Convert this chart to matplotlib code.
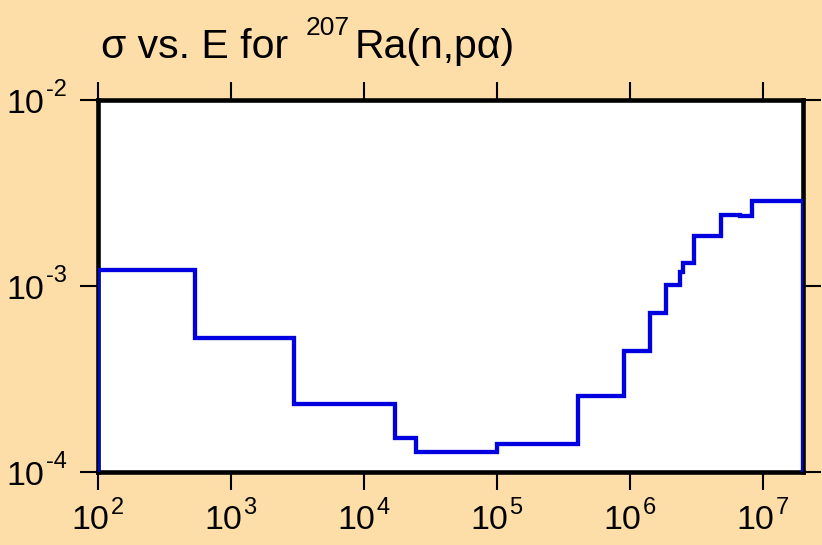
import matplotlib
matplotlib.use("Agg")
import matplotlib.pyplot as plt
from matplotlib.ticker import FixedLocator, NullLocator, NullFormatter

plt.rcParams["font.family"] = ["Liberation Sans", "DejaVu Sans"]

# group boundaries (eV) and cross section per group
energy_edges = [1e2, 535, 2980, 1.71e4, 2.46e4, 1e5, 4.06e5, 9.0e5, 1.41e6,
                1.87e6, 2.38e6, 2.50e6, 3.03e6, 4.83e6, 6.7e6, 8.26e6, 2e7]
sigma = [1.22e-3, 5.25e-4, 2.32e-4, 1.52e-4, 1.28e-4, 1.42e-4, 2.56e-4,
         4.48e-4, 7.16e-4, 1.01e-3, 1.19e-3, 1.33e-3, 1.86e-3, 2.41e-3,
         2.38e-3, 2.86e-3]

x_decades = [2, 3, 4, 5, 6, 7]
y_decades = [-4, -3, -2]

bg = "#FEDEA8"
W, H = 822, 545
PT = 0.72  # points per pixel at 100 dpi

fig = plt.figure(figsize=(W / 100, H / 100), dpi=100, facecolor=bg)
ax = fig.add_axes([98 / W, 1 - 472 / H, (803 - 98) / W, (472 - 100) / H])
ax.set_facecolor("white")
ax.set_xscale("log")
ax.set_yscale("log")

ax.stairs(sigma, energy_edges, baseline=1e-6, color="#0000E0",
          linewidth=3.1, zorder=3)

ax.set_xlim(1e2, 2e7)
ax.set_ylim(1e-4, 1e-2)

for s in ax.spines.values():
    s.set_linewidth(3.3)
    s.set_color("black")

ax.xaxis.set_major_locator(FixedLocator([10.0 ** e for e in x_decades]))
ax.yaxis.set_major_locator(FixedLocator([10.0 ** e for e in y_decades]))
ax.xaxis.set_minor_locator(NullLocator())
ax.yaxis.set_minor_locator(NullLocator())
ax.xaxis.set_major_formatter(NullFormatter())
ax.yaxis.set_major_formatter(NullFormatter())
ax.tick_params(which="major", direction="out", length=13, width=1.5,
               top=True, right=True, color="black")

# decade labels written as 10 with a small raised exponent
for e in x_decades:
    ax.annotate("10", xy=(10.0 ** e, 0), xycoords=("data", "axes fraction"),
                xytext=(11 * PT, -57 * PT), textcoords="offset points",
                ha="right", va="baseline", fontsize=24.5, annotation_clip=False)
    ax.annotate(str(e), xy=(10.0 ** e, 0), xycoords=("data", "axes fraction"),
                xytext=(12.5 * PT, -42 * PT), textcoords="offset points",
                ha="left", va="baseline", fontsize=17, annotation_clip=False)

for e in y_decades:
    ax.annotate("10", xy=(0, 10.0 ** e), xycoords=("axes fraction", "data"),
                xytext=(-54 * PT, -13 * PT), textcoords="offset points",
                ha="right", va="baseline", fontsize=24.5, annotation_clip=False)
    ax.annotate("-%d" % -e, xy=(0, 10.0 ** e), xycoords=("axes fraction", "data"),
                xytext=(-52 * PT, 4.5 * PT), textcoords="offset points",
                ha="left", va="baseline", fontsize=17, annotation_clip=False)

# title with the mass number as a superscript
fig.text(101 / W, 1 - 57.5 / H, "σ vs. E for", fontsize=29.5, ha="left", va="baseline")
fig.text(306 / W, 1 - 35 / H, "207", fontsize=19, ha="left", va="baseline")
fig.text(355 / W, 1 - 57.5 / H, "Ra(n,pα)", fontsize=29.5, ha="left", va="baseline")

fig.savefig("out.png", dpi=100, facecolor=bg)
